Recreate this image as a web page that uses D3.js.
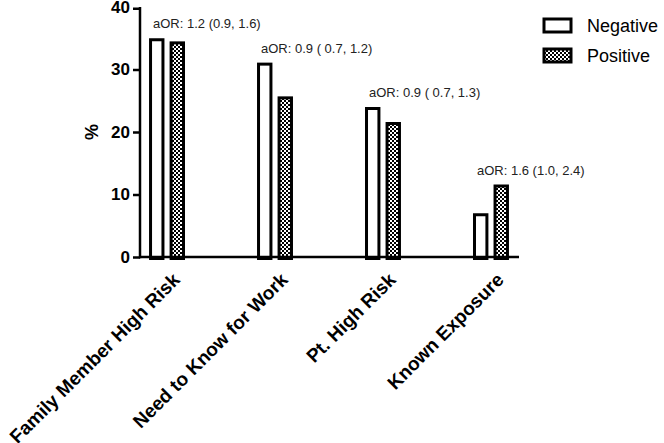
<!DOCTYPE html>
<html>
<head>
<meta charset="utf-8">
<script src="https://cdn.jsdelivr.net/npm/d3@7"></script>
<style>
  html, body { margin: 0; padding: 0; background: #fff; }
  svg { display: block; font-family: "Liberation Sans", Arial, Helvetica, sans-serif; }
</style>
</head>
<body>
<svg id="chart" width="664" height="443"></svg>
<script>
const categories = ["Family Member High Risk", "Need to Know for Work", "Pt. High Risk", "Known Exposure"];
const seriesNames = ["Negative", "Positive"];
const negativeValues = [35.0, 31.1, 24.0, 7.0];
const positiveValues = [34.5, 25.7, 21.6, 11.6];
const annotations = ["aOR: 1.2 (0.9, 1.6)", "aOR: 0.9 ( 0.7, 1.2)", "aOR: 0.9 ( 0.7, 1.3)", "aOR: 1.6 (1.0, 2.4)"];
const yTicks = [0, 10, 20, 30, 40];
const yLabel = "%";

const svg = d3.select("#chart");

// pattern
const defs = svg.append("defs");
const pat = defs.append("pattern").attr("id", "checker").attr("patternUnits", "userSpaceOnUse")
  .attr("width", 4).attr("height", 4);
pat.append("rect").attr("width", 4).attr("height", 4).attr("fill", "#fff");
pat.append("rect").attr("x", 0).attr("y", 0).attr("width", 2).attr("height", 2).attr("fill", "#000");
pat.append("rect").attr("x", 2).attr("y", 2).attr("width", 2).attr("height", 2).attr("fill", "#000");

const y = d3.scaleLinear().domain([0, 40]).range([257, 7]);
const x = d3.scaleBand().domain(categories).range([139, 519]).paddingInner(0.667).paddingOuter(0.093);
const xs = d3.scaleBand().domain(seriesNames).range([0, x.bandwidth()]).paddingInner(0.25);

const data = categories.map((c, i) => ({ cat: c, vals: [
  { s: "Negative", v: negativeValues[i] },
  { s: "Positive", v: positiveValues[i] }
], ann: annotations[i] }));

const fills = { Negative: "#fff", Positive: "url(#checker)" };
const sw = 3;

// bars
const g = svg.append("g");
data.forEach(d => {
  d.vals.forEach(b => {
    g.append("rect")
      .attr("x", x(d.cat) + xs(b.s) + sw / 2)
      .attr("y", y(b.v) + sw / 2)
      .attr("width", xs.bandwidth() - sw)
      .attr("height", y(0) - y(b.v))
      .attr("fill", fills[b.s])
      .attr("stroke", "#000")
      .attr("stroke-width", sw);
  });
});

// annotations
data.forEach(d => {
  const top = d3.max(d.vals, b => b.v);
  svg.append("text")
    .attr("x", x(d.cat) + 4)
    .attr("y", y(top) - 10)
    .attr("font-size", 13)
    .attr("fill", "#222")
    .text(d.ann);
});

// y axis
const yAxis = d3.axisLeft(y).tickValues(yTicks).tickSize(7).tickPadding(3).tickFormat(d3.format("d"));
const ya = svg.append("g").attr("transform", "translate(140,0)").call(yAxis);
ya.select(".domain").attr("stroke", "#000").attr("stroke-width", 2.5).attr("d", `M0,${y(40)}V${y(0) + 1.25}`);
ya.selectAll(".tick line").attr("stroke", "#000").attr("stroke-width", 2.5);
ya.selectAll(".tick text").attr("font-size", 17).attr("font-weight", "bold").attr("fill", "#000")
  .attr("font-family", "Liberation Sans, Arial, sans-serif");
ya.selectAll(".tick").filter(d => d === 40).select("line").attr("transform", "translate(0,1.25)");

// x axis line
svg.append("line").attr("x1", 139).attr("x2", 519).attr("y1", y(0)).attr("y2", y(0))
  .attr("stroke", "#000").attr("stroke-width", 2.5);

// x labels
categories.forEach(c => {
  const cx = x(c) + x.bandwidth() / 2;
  svg.append("text")
    .attr("transform", `translate(${cx + 14},${y(0) + 24}) rotate(-45)`)
    .attr("text-anchor", "end")
    .attr("font-size", 19)
    .attr("font-weight", "bold")
    .attr("fill", "#000")
    .text(c);
});

// y label
svg.append("text")
  .attr("transform", `translate(98,${(y(0) + y(40)) / 2}) rotate(-90)`)
  .attr("text-anchor", "middle")
  .attr("font-size", 18)
  .attr("font-weight", "bold")
  .text(yLabel);

// legend
const leg = svg.append("g");
seriesNames.forEach((s, i) => {
  const ly = 19 + i * 30;
  leg.append("rect").attr("x", 544).attr("y", ly).attr("width", 27).attr("height", 13)
    .attr("fill", fills[s]).attr("stroke", "#000").attr("stroke-width", 3);
  leg.append("text").attr("x", 587).attr("y", ly + 13).attr("font-size", 18).attr("fill", "#000").text(s);
});
</script>
</body>
</html>
